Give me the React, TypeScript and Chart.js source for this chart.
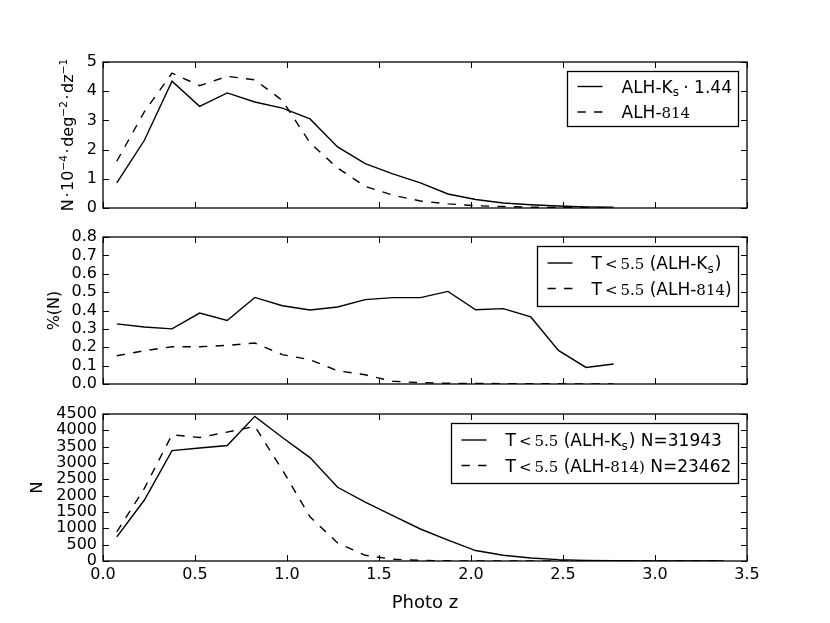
import { useRef, useEffect } from "react";
import Chart from "chart.js/auto";

Chart.defaults.font.family = "'DejaVu Sans', sans-serif";
Chart.defaults.color = "#000";

// photo-z bin centres
const zBins = [
  0.075, 0.225, 0.375, 0.525, 0.675, 0.825, 0.975, 1.125, 1.275, 1.425, 1.575, 1.725,
  1.875, 2.025, 2.175, 2.325, 2.475, 2.625, 2.775, 2.925, 3.075, 3.225, 3.375,
];

// top panel: N * 1e-4 / deg^2 / dz
const densKs = [0.86, 2.32, 4.34, 3.48, 3.94, 3.63, 3.42, 3.05, 2.09, 1.52, 1.17, 0.86, 0.48, 0.29, 0.17, 0.11, 0.07, 0.04, 0.03];
const dens814 = [1.6, 3.3, 4.62, 4.19, 4.51, 4.39, 3.68, 2.23, 1.37, 0.74, 0.44, 0.24, 0.14, 0.08, 0.05, 0.03, 0.02, 0.01, 0.01];

// middle panel: fraction with T < 5.5
const fracKs = [0.327, 0.31, 0.3, 0.386, 0.346, 0.471, 0.426, 0.403, 0.419, 0.459, 0.47, 0.47, 0.504, 0.404, 0.41, 0.365, 0.183, 0.09, 0.109];
const frac814 = [0.154, 0.181, 0.203, 0.203, 0.21, 0.223, 0.16, 0.132, 0.072, 0.05, 0.015, 0.007, 0.004, 0.003, 0.002, 0.001, 0.001, 0, 0];

// bottom panel: counts with T < 5.5
const countKs = [738, 1866, 3381, 3460, 3535, 4427, 3780, 3166, 2256, 1800, 1390, 980, 640, 320, 175, 92, 43, 20, 10, 5, 3, 2, 1];
const count814 = [891, 2225, 3864, 3781, 3947, 4120, 2788, 1353, 553, 175, 55, 18, 6, 3, 2, 1, 1, 0, 0, 0, 0, 0, 0];

type Seg = { t: string; k?: "serif" | "sub" | "sup" };
type Row = { dash: number[]; segs: Seg[] };

const SOLID: number[] = [];
const DASHED = [8.3, 8.3];

const legendDens: Row[] = [
  { dash: SOLID, segs: [{ t: "ALH-K" }, { t: "s", k: "sub" }, { t: "\u2009· 1.44" }] },
  { dash: DASHED, segs: [{ t: "ALH-" }, { t: "814", k: "serif" }] },
];
const legendFrac: Row[] = [
  { dash: SOLID, segs: [{ t: "T" }, { t: "\u2009<\u20095.5", k: "serif" }, { t: " (ALH-K" }, { t: "s", k: "sub" }, { t: ")" }] },
  { dash: DASHED, segs: [{ t: "T" }, { t: "\u2009<\u20095.5", k: "serif" }, { t: " (ALH-" }, { t: "814", k: "serif" }, { t: ")" }] },
];
const legendCount: Row[] = [
  { dash: SOLID, segs: [{ t: "T" }, { t: "\u2009<\u20095.5", k: "serif" }, { t: " (ALH-K" }, { t: "s", k: "sub" }, { t: ") N=31943" }] },
  { dash: DASHED, segs: [{ t: "T" }, { t: "\u2009<\u20095.5", k: "serif" }, { t: " (ALH-" }, { t: "814)", k: "serif" }, { t: " N=23462" }] },
];

const titleDens: Seg[] = [
  { t: "N\u200a·\u200a10" }, { t: "\u2212" + "4", k: "sup" },
  { t: "\u200a·\u200adeg" }, { t: "\u2212" + "2", k: "sup" },
  { t: "\u200a·\u200adz" }, { t: "\u2212" + "1", k: "sup" },
];
const titleFrac: Seg[] = [{ t: "%(N)" }];
const titleCount: Seg[] = [{ t: "N" }];

const legendFont = (s: Seg) =>
  s.k === "serif" ? "15px 'DejaVu Serif'" : s.k === "sub" ? "12px 'DejaVu Sans'" : "17px 'DejaVu Sans'";
const titleFont = (s: Seg) => (s.k === "sup" ? "10.5px 'DejaVu Sans'" : "16px 'DejaVu Sans'");
const shiftOf = (s: Seg) => (s.k === "sub" ? 3.5 : s.k === "sup" ? -6.5 : 0);

function segsWidth(ctx: CanvasRenderingContext2D, segs: Seg[], font: (s: Seg) => string) {
  let w = 0;
  for (const s of segs) {
    ctx.font = font(s);
    w += ctx.measureText(s.t).width + (s.k === "sub" ? 1 : 0);
  }
  return w;
}

function drawSegs(ctx: CanvasRenderingContext2D, segs: Seg[], font: (s: Seg) => string, x: number, y: number) {
  ctx.textBaseline = "alphabetic";
  ctx.textAlign = "left";
  for (const s of segs) {
    ctx.font = font(s);
    ctx.fillText(s.t, x, y + shiftOf(s));
    x += ctx.measureText(s.t).width + (s.k === "sub" ? 1 : 0);
  }
}

const framePlugin = {
  id: "frame",
  afterDatasetsDraw(chart: any) {
    const { ctx, chartArea: a, scales } = chart;
    const tl = 6;
    ctx.save();
    ctx.strokeStyle = "#000";
    ctx.lineWidth = 1;
    ctx.beginPath();
    for (const t of scales.x.ticks) {
      const px = Math.round(scales.x.getPixelForValue(t.value)) + 0.5;
      ctx.moveTo(px, a.top);
      ctx.lineTo(px, a.top + tl);
      ctx.moveTo(px, a.bottom);
      ctx.lineTo(px, a.bottom - tl);
    }
    for (const t of scales.y.ticks) {
      const py = Math.round(scales.y.getPixelForValue(t.value)) + 0.5;
      ctx.moveTo(a.left, py);
      ctx.lineTo(a.left + tl, py);
      ctx.moveTo(a.right, py);
      ctx.lineTo(a.right - tl, py);
    }
    ctx.stroke();
    ctx.lineWidth = 1.3;
    ctx.strokeRect(a.left, a.top, a.right - a.left, a.bottom - a.top);
    ctx.restore();
  },
};

const legendPlugin = {
  id: "boxLegend",
  afterDraw(chart: any, _args: any, opts: any) {
    const rows: Row[] = opts.rows;
    if (!rows) return;
    const { ctx, chartArea: a } = chart;
    ctx.save();
    const textW = Math.max(...rows.map((r) => segsWidth(ctx, r.segs, legendFont)));
    const padL = 10, sample = 25, gap = 19, padR = 7;
    const w = Math.round(padL + sample + gap + textW + padR);
    const h = opts.h;
    const x0 = Math.round(a.right - 9.5 - w) + 0.5;
    const y0 = Math.round(a.top + 8.5) + 0.5;
    ctx.fillStyle = "#fff";
    ctx.fillRect(x0, y0, w, h);
    ctx.strokeStyle = "#000";
    ctx.lineWidth = 1.3;
    ctx.strokeRect(x0, y0, w, h);
    rows.forEach((r, i) => {
      const cy = y0 + opts.r1 + i * opts.dy;
      ctx.lineWidth = 1.4;
      ctx.setLineDash(r.dash);
      ctx.beginPath();
      ctx.moveTo(x0 + padL, cy);
      ctx.lineTo(x0 + padL + sample, cy);
      ctx.stroke();
      ctx.setLineDash([]);
      ctx.fillStyle = "#000";
      drawSegs(ctx, r.segs, legendFont, x0 + padL + sample + gap, cy + 6.2);
    });
    ctx.restore();
  },
};

// rotated y-axis label, centred on the plot area
const yLabelPlugin = {
  id: "yLabel",
  afterDraw(chart: any, _args: any, opts: any) {
    const segs: Seg[] = opts.segs;
    if (!segs) return;
    const { ctx, chartArea: a } = chart;
    ctx.save();
    ctx.fillStyle = "#000";
    const w = segsWidth(ctx, segs, titleFont);
    ctx.translate(opts.x, (a.top + a.bottom) / 2);
    ctx.rotate(-Math.PI / 2);
    drawSegs(ctx, segs, titleFont, -w / 2, 5.8);
    ctx.restore();
  },
};

const AREA_LEFT = 103;
const AREA_RIGHT = 747;

type PanelProps = {
  top: number;
  height: number;
  areaTop: number;
  areaBottom: number;
  solid: number[];
  dashed: number[];
  yMax: number;
  yStep: number;
  yDigits: number;
  yTitle: Seg[];
  yTitleX: number;
  rows: Row[];
  box: { h: number; r1: number; dy: number };
  showX: boolean;
};

function Panel(p: PanelProps) {
  const canvasRef = useRef<HTMLCanvasElement>(null);

  useEffect(() => {
    const ctx = canvasRef.current!.getContext("2d")!;
    const pts = (arr: number[]) => arr.map((v, i) => ({ x: zBins[i], y: v }));
    const xHeight = p.height - p.areaBottom;

    const chart = new Chart(ctx, {
      type: "line",
      data: {
        datasets: [
          { data: pts(p.solid), borderColor: "#000", borderWidth: 1.4, pointRadius: 0, tension: 0 },
          { data: pts(p.dashed), borderColor: "#000", borderWidth: 1.4, borderDash: DASHED, pointRadius: 0, tension: 0 },
        ],
      },
      options: {
        responsive: false,
        animation: false,
        events: [],
        layout: {
          padding: { left: 0, right: 830 - AREA_RIGHT, top: p.areaTop, bottom: p.showX ? 0 : xHeight },
        },
        plugins: {
          legend: { display: false },
          tooltip: { enabled: false },
          // @ts-ignore
          boxLegend: { rows: p.rows, ...p.box },
          yLabel: { segs: p.yTitle, x: p.yTitleX },
        },
        scales: {
          x: {
            type: "linear",
            min: 0,
            max: 3.5,
            grid: { display: false, drawTicks: false },
            border: { display: false },
            ticks: {
              display: p.showX,
              stepSize: 0.5,
              padding: 4,
              autoSkip: false,
              maxRotation: 0,
              font: { size: 16 },
              callback: (v: any) => Number(v).toFixed(1),
            },
            title: {
              display: p.showX,
              text: "Photo z",
              font: { size: 18 },
              padding: { top: 0, bottom: 9 },
            },
            afterFit: (s: any) => {
              s.height = p.showX ? xHeight : 0;
              s.paddingLeft = 0;
              s.paddingRight = 0;
            },
          },
          y: {
            min: 0,
            max: p.yMax,
            grid: { display: false, drawTicks: false },
            border: { display: false },
            ticks: {
              stepSize: p.yStep,
              padding: 6,
              autoSkip: false,
              font: { size: 16 },
              callback: (v: any) => Number(v).toFixed(p.yDigits),
            },
            afterFit: (s: any) => {
              s.width = AREA_LEFT;
              s.paddingTop = 0;
              s.paddingBottom = 0;
            },
          },
        },
      },
      plugins: [framePlugin, legendPlugin, yLabelPlugin],
    });

    return () => {
      chart.destroy();
    };
  }, []);

  return (
    <canvas
      ref={canvasRef}
      width={830}
      height={p.height}
      style={{ position: "absolute", left: 0, top: p.top, width: 830, height: p.height }}
    />
  );
}

export default function App() {
  return (
    <div style={{ position: "absolute", left: 0, top: 0, width: 830, height: 623, background: "#fff" }}>
      <Panel
        top={0}
        height={220}
        areaTop={62}
        areaBottom={208}
        solid={densKs}
        dashed={dens814}
        yMax={5}
        yStep={1}
        yDigits={0}
        yTitle={titleDens}
        yTitleX={67.5}
        rows={legendDens}
        box={{ h: 55, r1: 15, dy: 25.5 }}
        showX={false}
      />
      <Panel
        top={220}
        height={180}
        areaTop={17}
        areaBottom={164}
        solid={fracKs}
        dashed={frac814}
        yMax={0.8}
        yStep={0.1}
        yDigits={1}
        yTitle={titleFrac}
        yTitleX={53}
        rows={legendFrac}
        box={{ h: 60, r1: 16.5, dy: 25.5 }}
        showX={false}
      />
      <Panel
        top={400}
        height={223}
        areaTop={14}
        areaBottom={161}
        solid={countKs}
        dashed={count814}
        yMax={4500}
        yStep={500}
        yDigits={0}
        yTitle={titleCount}
        yTitleX={36.5}
        rows={legendCount}
        box={{ h: 60, r1: 16.5, dy: 25.5 }}
        showX={true}
      />
    </div>
  );
}
